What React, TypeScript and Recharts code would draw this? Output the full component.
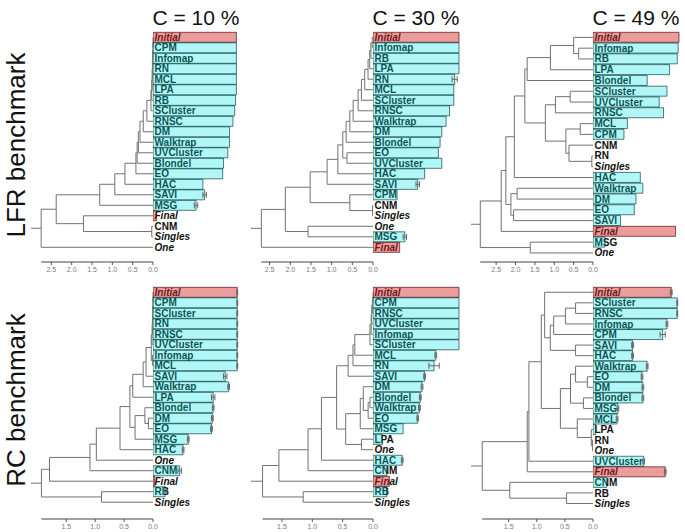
import React from 'react';
import {
  ScatterChart,
  Scatter,
  XAxis,
  YAxis,
  ReferenceLine,
  BarChart,
  Bar,
  Cell,
  ErrorBar,
  LabelList,
} from 'recharts';

document.body.style.margin = '0';

type Node = string | number;
type Merge = [Node, Node, number];

// tick labels
const topTicks = [0, 0.5, 1, 1.5, 2, 2.5];
const bottomTicks = [0, 0.5, 1, 1.5];
const titles = ['C = 10 %', 'C = 30 %', 'C = 49 %'];
const rowTitles = ['LFR benchmark', 'RC benchmark'];

// ---- LFR, C = 10 %
const lfr10Labels = ['Initial', 'CPM', 'Infomap', 'RN', 'MCL', 'LPA', 'RB', 'SCluster', 'RNSC', 'DM', 'Walktrap', 'UVCluster', 'Blondel', 'EO', 'HAC', 'SAVI', 'MSG', 'Final', 'CNM', 'Singles', 'One'];
const lfr10Bars = [0.97, 0.97, 0.97, 0.97, 0.97, 0.97, 0.96, 0.95, 0.93, 0.89, 0.89, 0.87, 0.82, 0.81, 0.58, 0.6, 0.5, 0.04, null, null, null];
const lfr10Err = [null, null, null, null, null, null, null, null, null, null, null, null, null, null, null, 0.02, 0.02, null, null, null, null];
const lfr10Merges: Merge[] = [
  ['Initial', 'CPM', 0.0], [0, 'Infomap', 0.005], [1, 'RN', 0.01], [2, 'MCL', 0.015], [3, 'LPA', 0.02],
  [4, 'RB', 0.03], [5, 'SCluster', 0.05], [6, 'RNSC', 0.15], [7, 'DM', 0.24], [8, 'Walktrap', 0.32],
  [9, 'UVCluster', 0.36], [10, 'Blondel', 0.39], [11, 'EO', 0.42], [12, 'HAC', 0.69], [13, 'SAVI', 0.94],
  [14, 'MSG', 1.31], ['CNM', 'Singles', 0.03], ['Final', 16, 1.71], [15, 17, 2.38], [18, 'One', 2.75],
];

// ---- LFR, C = 30 %
const lfr30Labels = ['Initial', 'Infomap', 'RB', 'LPA', 'RN', 'MCL', 'SCluster', 'RNSC', 'Walktrap', 'DM', 'Blondel', 'EO', 'UVCluster', 'HAC', 'SAVI', 'CPM', 'CNM', 'Singles', 'One', 'MSG', 'Final'];
const lfr30Bars = [1.0, 1.0, 1.0, 1.0, 0.95, 0.94, 0.94, 0.89, 0.85, 0.8, 0.78, 0.76, 0.8, 0.6, 0.52, 0.28, null, null, null, 0.37, 0.31];
const lfr30Err = [null, null, null, null, 0.03, null, null, null, null, null, null, null, null, null, 0.02, null, null, null, null, 0.02, null];
const lfr30Merges: Merge[] = [
  ['Initial', 'Infomap', 0.02], [0, 'RB', 0.05], [1, 'LPA', 0.08], [2, 'RN', 0.12], [3, 'MCL', 0.2],
  [4, 'SCluster', 0.28], [5, 'RNSC', 0.36], [6, 'Walktrap', 0.48], [7, 'DM', 0.56], [8, 'Blondel', 0.65],
  ['EO', 'UVCluster', 0.63], [9, 10, 0.73], [11, 'HAC', 0.85], [12, 'SAVI', 1.11], ['CNM', 'Singles', 0.01],
  ['CPM', 14, 0.56], [13, 15, 1.52], ['One', 'MSG', 1.57], [16, 17, 2.12], [18, 'Final', 2.7],
];

// ---- LFR, C = 49 %
const lfr49Labels = ['Initial', 'Infomap', 'RB', 'LPA', 'Blondel', 'SCluster', 'UVCluster', 'RNSC', 'MCL', 'CPM', 'CNM', 'RN', 'Singles', 'HAC', 'Walktrap', 'DM', 'EO', 'SAVI', 'Final', 'MSG', 'One'];
const lfr49Bars = [1.0, 0.99, 0.98, 0.89, 0.63, 0.86, 0.77, 0.82, 0.4, 0.36, null, null, null, 0.55, 0.58, 0.5, 0.48, 0.32, 0.96, 0.14, null];
const lfr49Err = [null, null, null, null, null, null, null, null, null, null, null, null, null, null, null, null, null, null, null, null, null];
const lfr49Merges: Merge[] = [
  ['Infomap', 'RB', 0.37], ['Initial', 0, 0.5], [1, 'LPA', 1.1], [2, 'Blondel', 1.7], ['SCluster', 'UVCluster', 0.59],
  [4, 'RNSC', 0.97], ['MCL', 'CPM', 0.33], ['RN', 'Singles', 0.03], ['CNM', 7, 0.62], [6, 8, 0.7],
  [5, 9, 1.23], [3, 10, 1.76], [11, 'HAC', 2.03], ['Walktrap', 'DM', 1.96], ['EO', 'SAVI', 2.05],
  [13, 14, 2.12], [12, 15, 2.25], [16, 'Final', 2.37], ['MSG', 'One', 1.62], [17, 18, 2.91],
];

// ---- RC, C = 10 %
const rc10Labels = ['Initial', 'CPM', 'SCluster', 'RN', 'RNSC', 'UVCluster', 'Infomap', 'MCL', 'SAVI', 'Walktrap', 'LPA', 'Blondel', 'DM', 'EO', 'MSG', 'HAC', 'One', 'CNM', 'Final', 'RB', 'Singles'];
const rc10Bars = [0.98, 0.98, 0.98, 0.98, 0.98, 0.98, 0.98, 0.98, 0.84, 0.88, 0.7, 0.7, 0.69, 0.68, 0.41, 0.35, null, 0.31, 0.02, 0.14, null];
const rc10Err = [0.005, 0.005, 0.005, 0.005, 0.005, 0.005, 0.005, 0.005, 0.02, 0.01, 0.02, 0.01, 0.01, 0.01, 0.01, 0.01, null, 0.02, null, 0.02, null];
const rc10Merges: Merge[] = [
  ['Initial', 'CPM', 0.0], [0, 'SCluster', 0.003], [1, 'RN', 0.006], [2, 'RNSC', 0.01], [3, 'UVCluster', 0.015],
  ['Infomap', 'MCL', 0.01], [4, 5, 0.03], [6, 'SAVI', 0.12], [7, 'Walktrap', 0.17], [8, 'LPA', 0.35],
  ['DM', 'EO', 0.08], ['Blondel', 10, 0.14], [11, 'MSG', 0.31], [9, 12, 0.4], [13, 'HAC', 0.57],
  [14, 'One', 0.98], [15, 'CNM', 1.09], [16, 'Final', 1.79], ['RB', 'Singles', 0.89], [17, 18, 1.93],
];

// ---- RC, C = 30 %
const rc30Labels = ['Initial', 'CPM', 'RNSC', 'UVCluster', 'Infomap', 'SCluster', 'MCL', 'RN', 'SAVI', 'DM', 'Blondel', 'Walktrap', 'EO', 'MSG', 'LPA', 'One', 'HAC', 'CNM', 'Final', 'RB', 'Singles'];
const rc30Bars = [1.0, 1.0, 1.0, 1.0, 1.0, 1.0, 0.73, 0.71, 0.6, 0.57, 0.55, 0.54, 0.52, 0.35, 0.11, null, 0.34, 0.16, 0.19, 0.16, null];
const rc30Err = [null, null, null, null, null, null, 0.01, 0.06, 0.01, 0.01, 0.01, 0.01, 0.01, null, null, null, 0.01, null, null, null, null];
const rc30Merges: Merge[] = [
  ['Initial', 'CPM', 0.0], [0, 'RNSC', 0.01], [1, 'UVCluster', 0.02], [2, 'Infomap', 0.03], [3, 'SCluster', 0.05],
  [4, 'MCL', 0.3], [5, 'RN', 0.33], [6, 'SAVI', 0.41], ['Blondel', 'Walktrap', 0.05], [8, 'EO', 0.08],
  ['DM', 9, 0.16], [10, 'MSG', 0.21], ['LPA', 'One', 0.19], [11, 12, 0.45], [7, 13, 0.6],
  [14, 'HAC', 0.85], [15, 'CNM', 1.07], [16, 'Final', 1.55], ['RB', 'Singles', 1.15], [17, 18, 1.82],
];

// ---- RC, C = 49 %
const rc49Labels = ['Initial', 'SCluster', 'RNSC', 'Infomap', 'CPM', 'SAVI', 'HAC', 'Walktrap', 'EO', 'DM', 'Blondel', 'MSG', 'MCL', 'LPA', 'RN', 'One', 'UVCluster', 'Final', 'CNM', 'RB', 'Singles'];
const rc49Bars = [0.91, 0.98, 0.98, 0.86, 0.81, 0.46, 0.46, 0.63, 0.57, 0.58, 0.58, 0.29, 0.28, 0.03, null, null, 0.59, 0.84, 0.16, null, null];
const rc49Err = [0.01, 0.005, 0.005, 0.01, 0.03, 0.01, 0.01, 0.01, 0.01, 0.01, 0.01, 0.01, 0.01, null, null, null, 0.01, 0.01, null, null, null];
const rc49Merges: Merge[] = [
  ['SCluster', 'RNSC', 0.31], [0, 'Infomap', 0.49], [1, 'CPM', 0.7], ['SAVI', 'HAC', 0.31], [2, 3, 0.76],
  ['Initial', 4, 0.86], ['EO', 'DM', 0.1], ['Walktrap', 6, 0.31], ['Blondel', 'MSG', 0.17], [7, 8, 0.4],
  ['RN', 'One', 0.01], ['LPA', 10, 0.03], ['MCL', 11, 0.28], [9, 12, 0.58], [5, 13, 0.92],
  [14, 'UVCluster', 1.14], [15, 'Final', 1.17], ['RB', 'Singles', 0.47], ['CNM', 17, 1.48], [16, 18, 1.97],
];

const ITALIC = ['Initial', 'Final', 'Singles', 'One'];
const RED = ['Initial', 'Final'];

const DW = 122; // dendrogram plot width
const BW = 86; // bar length at value 1
const PAD_T = 10;
const AXIS_H = 16;
const FONT = "'Liberation Sans', Arial, Helvetica, sans-serif";

interface PanelCfg {
  labels: string[];
  bars: (number | null)[];
  err: (number | null)[];
  merges: Merge[];
  ticks: number[];
  x0: number;
  plotTop: number;
  plotH: number;
  gap: number;
  dMax: number;
}

const panels: PanelCfg[] = [
  { labels: lfr10Labels, bars: lfr10Bars, err: lfr10Err, merges: lfr10Merges, ticks: topTicks, x0: 153, plotTop: 32.4, plotH: 230, gap: 0.9, dMax: 3.0 },
  { labels: lfr30Labels, bars: lfr30Bars, err: lfr30Err, merges: lfr30Merges, ticks: topTicks, x0: 373, plotTop: 32.4, plotH: 230, gap: 0.9, dMax: 2.95 },
  { labels: lfr49Labels, bars: lfr49Bars, err: lfr49Err, merges: lfr49Merges, ticks: topTicks, x0: 593, plotTop: 32.4, plotH: 230, gap: 0.34, dMax: 3.15 },
  { labels: rc10Labels, bars: rc10Bars, err: rc10Err, merges: rc10Merges, ticks: bottomTicks, x0: 153, plotTop: 287.4, plotH: 232, gap: 1.1, dMax: 2.11 },
  { labels: rc30Labels, bars: rc30Bars, err: rc30Err, merges: rc30Merges, ticks: bottomTicks, x0: 373, plotTop: 287.4, plotH: 232, gap: 1.1, dMax: 2.01 },
  { labels: rc49Labels, bars: rc49Bars, err: rc49Err, merges: rc49Merges, ticks: bottomTicks, x0: 593, plotTop: 287.4, plotH: 232, gap: 0.97, dMax: 2.17 },
];

// leaves sit on their row; each merge sits halfway between its two children
function layoutTree(labels: string[], merges: Merge[]) {
  const leaf = (name: string) => ({ y: labels.indexOf(name), h: 0 });
  const nodes: { y: number; h: number }[] = [];
  const segs = merges.map(([a, b, h]) => {
    const A = typeof a === 'number' ? nodes[a] : leaf(a);
    const B = typeof b === 'number' ? nodes[b] : leaf(b);
    nodes.push({ y: (A.y + B.y) / 2, h });
    return [
      { x: A.h, y: A.y },
      { x: h, y: A.y },
      { x: h, y: B.y },
      { x: B.h, y: B.y },
    ];
  });
  return { segs, root: nodes[nodes.length - 1] };
}

const noDot = () => <g />;

// method name, drawn underneath the translucent bar so the part inside the bar reads teal
const renderLabel = (props: any) => {
  const vb = props.viewBox ?? props;
  const name = String(props.value ?? '');
  return (
    <text
      x={vb.x + 1.5}
      y={vb.y + vb.height / 2}
      dy="0.36em"
      fontSize={10}
      fontWeight="bold"
      fontStyle={ITALIC.includes(name) ? 'italic' : 'normal'}
      fontFamily={FONT}
      fill="#111"
    >
      {name}
    </text>
  );
};

function Panel({ cfg }: { cfg: PanelCfg }) {
  const n = cfg.labels.length;
  const { segs, root } = layoutTree(cfg.labels, cfg.merges);
  const yMax = n - 0.5 + cfg.gap;
  const rowPx = cfg.plotH / (n + cfg.gap);
  const chartH = PAD_T + cfg.plotH + AXIS_H;
  const barMb = chartH - PAD_T - n * rowPx;
  const rows = cfg.labels.map((name, i) => ({ name, value: cfg.bars[i], err: cfg.err[i], anchor: 1 }));
  const top = cfg.plotTop - PAD_T;

  return (
    <>
      {/* Dendrogram */}
      <div style={{ position: 'absolute', left: cfg.x0 - DW - 2, top }}>
        <ScatterChart width={DW + 10} height={chartH} margin={{ top: PAD_T, right: 8, bottom: 0, left: 2 }}>
          <XAxis
            type="number"
            dataKey="x"
            domain={[0, cfg.dMax]}
            reversed
            ticks={cfg.ticks}
            interval={0}
            tickFormatter={(v: number) => v.toFixed(1)}
            tick={{ fontSize: 7, fill: '#7a7a7a', fontFamily: FONT }}
            tickSize={3}
            tickLine={{ stroke: '#555' }}
            axisLine={false}
            height={AXIS_H}
          />
          <YAxis type="number" dataKey="y" domain={[-0.5, yMax]} reversed hide />
          {segs.map((s, i) => (
            <Scatter
              key={i}
              data={s}
              line={{ stroke: '#727272', strokeWidth: 1 }}
              shape={noDot}
              isAnimationActive={false}
            />
          ))}
          <Scatter
            data={[{ x: root.h, y: root.y }, { x: cfg.dMax, y: root.y }]}
            line={{ stroke: '#727272', strokeWidth: 1 }}
            shape={noDot}
            isAnimationActive={false}
          />
          <ReferenceLine
            segment={[{ x: root.h, y: yMax }, { x: 0, y: yMax }]}
            stroke="#444"
            ifOverflow="visible"
          />
        </ScatterChart>
      </div>

      {/* Labels layer */}
      <div style={{ position: 'absolute', left: cfg.x0, top }}>
        <BarChart
          layout="vertical"
          width={BW + 40}
          height={chartH}
          data={rows}
          margin={{ top: PAD_T, right: 40, bottom: barMb, left: 0 }}
          barCategoryGap={0.3}
        >
          <XAxis type="number" domain={[0, 1]} hide />
          <YAxis type="category" dataKey="name" hide />
          <Bar dataKey="anchor" fill="none" isAnimationActive={false}>
            <LabelList dataKey="name" content={renderLabel} />
          </Bar>
        </BarChart>
      </div>

      {/* Bars */}
      <div style={{ position: 'absolute', left: cfg.x0, top }}>
        <BarChart
          layout="vertical"
          width={BW + 40}
          height={chartH}
          data={rows}
          margin={{ top: PAD_T, right: 40, bottom: barMb, left: 0 }}
          barCategoryGap={0.3}
        >
          <XAxis type="number" domain={[0, 1]} hide />
          <YAxis type="category" dataKey="name" hide />
          <Bar dataKey="value" isAnimationActive={false}>
            {rows.map((r) => (
              <Cell
                key={r.name}
                fill={RED.includes(r.name) ? 'rgba(215,35,35,0.45)' : 'rgba(0,228,228,0.3)'}
                stroke={RED.includes(r.name) ? 'rgba(70,0,0,0.65)' : 'rgba(0,55,55,0.65)'}
                strokeWidth={1}
              />
            ))}
            <ErrorBar dataKey="err" direction="x" width={3} stroke="#666" strokeWidth={1} />
          </Bar>
        </BarChart>
      </div>
    </>
  );
}

export default function App() {
  return (
    <div style={{ position: 'relative', width: 685, height: 532, background: '#fff', overflow: 'hidden', fontFamily: FONT }}>
      {titles.map((t, i) => (
        <div
          key={t}
          style={{
            position: 'absolute',
            left: panels[i].x0 + 43 - 70,
            width: 140,
            top: 5,
            textAlign: 'center',
            fontSize: 21,
            lineHeight: '26px',
            color: '#111',
          }}
        >
          {t}
        </div>
      ))}
      {rowTitles.map((t, i) => (
        <div
          key={t}
          style={{
            position: 'absolute',
            left: 16,
            top: i === 0 ? 145 : 400,
            transform: 'translate(-50%, -50%) rotate(-90deg)',
            whiteSpace: 'nowrap',
            fontSize: 26,
            lineHeight: '28px',
            color: '#111',
          }}
        >
          {t}
        </div>
      ))}
      {panels.map((p, i) => (
        <Panel key={i} cfg={p} />
      ))}
    </div>
  );
}
